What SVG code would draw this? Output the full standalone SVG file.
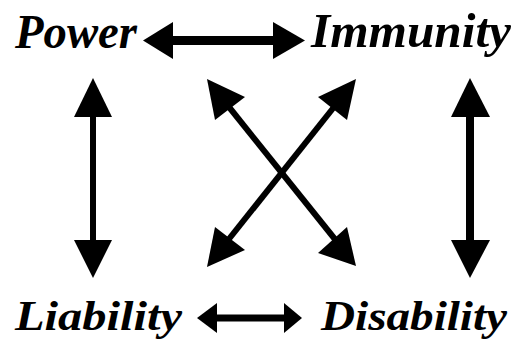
<svg xmlns="http://www.w3.org/2000/svg" width="519" height="345" viewBox="0 0 519 345">
<style>
.lbl{font-family:"Liberation Serif","Times New Roman",serif;font-weight:bold;font-style:italic;fill:#000}
.shaft{stroke:#000;fill:none}
.head{fill:#000;stroke:none}
</style>
<rect width="519" height="345" fill="#fff"/>
<g id="connectors">
  <!-- Power <-> Immunity -->
  <line class="shaft" x1="170" y1="40.5" x2="276" y2="40.5" stroke-width="9"/>
  <polygon class="head" points="143,40.5 173,22 173,59"/>
  <polygon class="head" points="305,40.5 273,22 273,59"/>
  <!-- Liability <-> Disability -->
  <line class="shaft" x1="214" y1="318" x2="287" y2="318" stroke-width="7"/>
  <polygon class="head" points="197,318 217,303 217,333"/>
  <polygon class="head" points="302,318 284,303 284,333"/>
  <!-- Power <-> Liability -->
  <line class="shaft" x1="93" y1="114" x2="93" y2="243" stroke-width="6"/>
  <polygon class="head" points="93,78 74,117 112,117"/>
  <polygon class="head" points="93,278 74,240 112,240"/>
  <!-- Immunity <-> Disability -->
  <line class="shaft" x1="470" y1="114" x2="470" y2="243" stroke-width="8"/>
  <polygon class="head" points="470,78 451,117 490,117"/>
  <polygon class="head" points="470,278 451,240 490,240"/>
  <!-- Power <-> Disability -->
  <line class="shaft" x1="225" y1="102" x2="338" y2="243" stroke-width="6"/>
  <polygon class="head" points="207,79 215,120 245,97"/>
  <polygon class="head" points="356,266 318,253 347,227"/>
  <!-- Immunity <-> Liability -->
  <line class="shaft" x1="338" y1="102" x2="225" y2="244" stroke-width="6"/>
  <polygon class="head" points="356,79 318,97 347,120"/>
  <polygon class="head" points="207,267 215,227 245,250"/>
</g>
<g id="node-power"><text class="lbl" x="15" y="48" font-size="48" textLength="122" lengthAdjust="spacingAndGlyphs">Power</text></g>
<g id="node-immunity"><text class="lbl" x="311" y="47" font-size="48" textLength="200" lengthAdjust="spacingAndGlyphs">Immunity</text></g>
<g id="node-liability"><text class="lbl" x="15" y="330" font-size="42" textLength="167" lengthAdjust="spacingAndGlyphs">Liability</text></g>
<g id="node-disability"><text class="lbl" x="321" y="330" font-size="42" textLength="186" lengthAdjust="spacingAndGlyphs">Disability</text></g>
</svg>
